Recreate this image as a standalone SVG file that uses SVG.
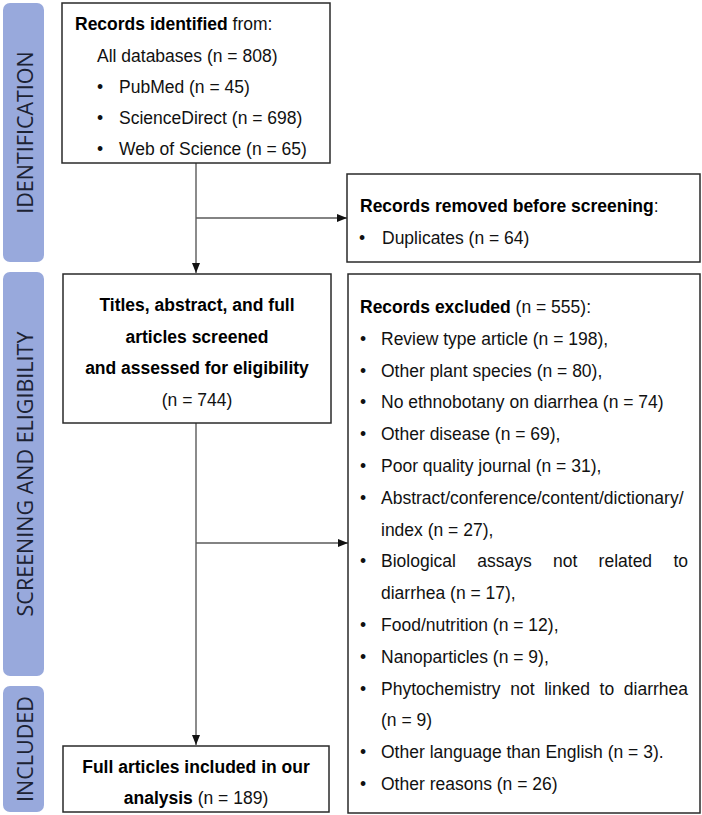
<svg xmlns="http://www.w3.org/2000/svg" width="702" height="815" viewBox="0 0 702 815">
<defs>
<marker id="arr" markerUnits="userSpaceOnUse" markerWidth="10" markerHeight="8" refX="10" refY="4" orient="auto">
<path d="M0,0 L10,4 L0,8 Z" fill="#111"/>
</marker>
<style>
.band{fill:#98a9dc}
.bandtxt{font-family:"Open Sans","DejaVu Sans",sans-serif;font-size:21.5px;fill:#1c2233;text-anchor:middle}
.box{fill:#fff;stroke:#2a2a2a;stroke-width:1.5}
.t{font-family:"Liberation Sans",Arial,sans-serif;font-size:17.5px;fill:#111}
.b{font-weight:bold;fill:#000}
.c{text-anchor:middle}
.con{fill:none;stroke:#5a5a5a;stroke-width:1.4}
</style>
</defs>
<rect width="702" height="815" fill="#fff"/>

<g id="stage-identification">
<rect class="band" x="3" y="3" width="41" height="259" rx="7"/>
<text class="bandtxt" transform="translate(33,132.5) rotate(-90)">IDENTIFICATION</text>
</g>
<g id="stage-screening">
<rect class="band" x="3" y="272" width="41" height="404" rx="7"/>
<text class="bandtxt" transform="translate(33,474) rotate(-90)">SCREENING AND ELIGIBILITY</text>
</g>
<g id="stage-included">
<rect class="band" x="3" y="686" width="41" height="126" rx="7"/>
<text class="bandtxt" transform="translate(33,749) rotate(-90)">INCLUDED</text>
</g>

<g id="connectors">
<path class="con" d="M196,163 V273" marker-end="url(#arr)"/>
<path class="con" d="M196,218 H347" marker-end="url(#arr)"/>
<path class="con" d="M196,423 V745" marker-end="url(#arr)"/>
<path class="con" d="M196,543 H348" marker-end="url(#arr)"/>
</g>

<g id="records-identified">
<rect class="box" x="62" y="3" width="268" height="160"/>
<text class="t" x="75" y="30"><tspan class="b">Records identified</tspan> from:</text>
<text class="t" x="97" y="61.5">All databases (n = 808)</text>
<text class="t" x="97" y="93">•</text>
<text class="t" x="119" y="93">PubMed (n = 45)</text>
<text class="t" x="97" y="124">•</text>
<text class="t" x="119" y="124">ScienceDirect (n = 698)</text>
<text class="t" x="97" y="155">•</text>
<text class="t" x="119" y="155">Web of Science (n = 65)</text>
</g>

<g id="records-removed">
<rect class="box" x="347" y="174" width="353" height="88"/>
<text class="t" x="360" y="212"><tspan class="b">Records removed before screening</tspan>:</text>
<text class="t" x="359" y="243.5">•</text>
<text class="t" x="382" y="243.5">Duplicates (n = 64)</text>
</g>

<g id="screened">
<rect class="box" x="63" y="274" width="268" height="149"/>
<text class="t b c" x="197" y="311">Titles, abstract, and full</text>
<text class="t b c" x="197" y="342.7">articles screened</text>
<text class="t b c" x="197" y="374.4">and assessed for eligibility</text>
<text class="t c" x="197" y="406">(n = 744)</text>
</g>

<g id="records-excluded">
<rect class="box" x="348" y="274" width="352" height="539"/>
<text class="t" x="360" y="313"><tspan class="b">Records excluded</tspan> (n = 555):</text>
<text class="t" x="360" y="344.8">•</text>
<text class="t" x="381" y="344.8">Review type article (n = 198),</text>
<text class="t" x="360" y="376.6">•</text>
<text class="t" x="381" y="376.6">Other plant species (n = 80),</text>
<text class="t" x="360" y="408.4">•</text>
<text class="t" x="381" y="408.4">No ethnobotany on diarrhea (n = 74)</text>
<text class="t" x="360" y="440.2">•</text>
<text class="t" x="381" y="440.2">Other disease (n = 69),</text>
<text class="t" x="360" y="472">•</text>
<text class="t" x="381" y="472">Poor quality journal (n = 31),</text>
<text class="t" x="360" y="503.8">•</text>
<text class="t" x="381" y="503.8">Abstract/conference/content/dictionary/</text>
<text class="t" x="381" y="535.6">index (n = 27),</text>
<text class="t" x="360" y="567.4">•</text>
<text class="t" y="567.4"><tspan x="381">Biological</tspan><tspan x="477.2">assays</tspan><tspan x="553">not</tspan><tspan x="598.6">related</tspan><tspan x="673.4">to</tspan></text>
<text class="t" x="381" y="599.2">diarrhea (n = 17),</text>
<text class="t" x="360" y="631">•</text>
<text class="t" x="381" y="631">Food/nutrition (n = 12),</text>
<text class="t" x="360" y="662.8">•</text>
<text class="t" x="381" y="662.8">Nanoparticles (n = 9),</text>
<text class="t" x="360" y="694.6">•</text>
<text class="t" y="694.6"><tspan x="381">Phytochemistry</tspan><tspan x="510.3">not</tspan><tspan x="544.2">linked</tspan><tspan x="599.6">to</tspan><tspan x="623.8">diarrhea</tspan></text>
<text class="t" x="381" y="726.4">(n = 9)</text>
<text class="t" x="360" y="758.2">•</text>
<text class="t" x="381" y="758.2">Other language than English (n = 3).</text>
<text class="t" x="360" y="790">•</text>
<text class="t" x="381" y="790">Other reasons (n = 26)</text>
</g>

<g id="included">
<rect class="box" x="63" y="746" width="266" height="66"/>
<text class="t b c" x="196" y="773">Full articles included in our</text>
<text class="t c" x="196" y="804"><tspan class="b">analysis</tspan> (n = 189)</text>
</g>
</svg>
